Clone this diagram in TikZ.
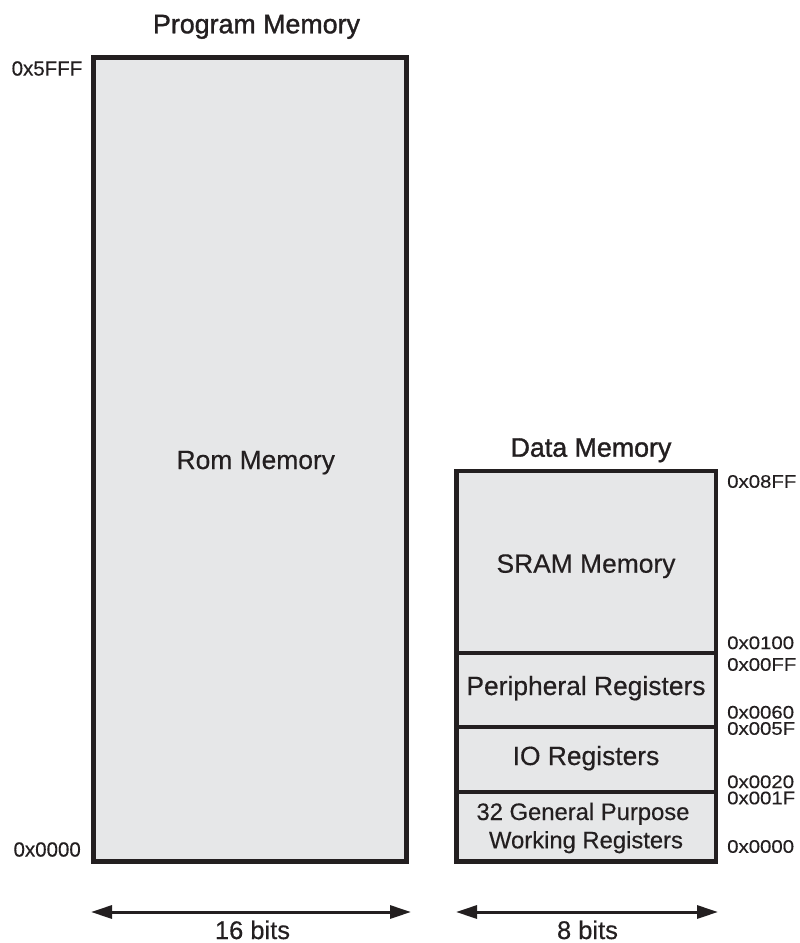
\documentclass[tikz,border=0pt]{standalone}
\usepackage{fontspec}
\setmainfont{Liberation Sans}
\newfontfamily\titlefont{Liberation Sans}[FakeBold=1.3]
\newfontfamily\bodyfont{Liberation Sans}[FakeBold=0.35]
\newfontfamily\raddrfont{Liberation Sans}[FakeStretch=1.12,FakeBold=0.25]
\usetikzlibrary{arrows.meta}
\definecolor{boxfill}{HTML}{E6E7E8}
\definecolor{ink}{HTML}{231F20}
\tikzset{
  pmbox/.style={draw=ink, line width=4.5pt, fill=boxfill, rectangle, inner sep=0pt, outer sep=0pt},
  secfill/.style={fill=boxfill, draw=none, rectangle, inner sep=0pt, outer sep=0pt},
  divider/.style={draw=ink, line width=3.5pt},
  outerline/.style={draw=ink, line width=4.5pt},
  lbl/.style={font=\bodyfont\fontsize{26.4}{30}\selectfont, text=ink, inner sep=0pt},
  gprlbl/.style={font=\bodyfont\fontsize{23.8}{28.3}\selectfont, text=ink, inner sep=0pt, align=center},
  title/.style={font=\titlefont\fontsize{26.8}{30}\selectfont, text=ink, inner sep=0pt},
  laddr/.style={font=\bodyfont\fontsize{20.5}{24}\selectfont, text=ink, inner sep=0pt},
  raddr/.style={font=\raddrfont\fontsize{18.2}{22}\selectfont, text=ink, inner sep=0pt, anchor=west},
  bits/.style={font=\bodyfont\fontsize{25.5}{30}\selectfont, text=ink, inner sep=0pt, anchor=base},
  widtharrow/.style={draw=ink, line width=3pt, {Triangle[length=21pt,width=13pt]}-{Triangle[length=21pt,width=13pt]}}
}
\begin{document}
\begin{tikzpicture}[x=1pt,y=-1pt]
\useasboundingbox (0,0) rectangle (800,943);
% Program memory
\node[title, anchor=base] (pmt) at (256.5,33.3) {Program Memory};
\node[pmbox, minimum width=313, minimum height=804] (pm) at (250,459.5) {};
\node[lbl, anchor=base] (romt) at (255.8,469) {Rom Memory};
\node[laddr, anchor=east] (pmhi) at (82.5,68.5) {0x5FFF};
\node[laddr, anchor=east] (pmlo) at (81,849.5) {0x0000};
% Data memory
\node[title, anchor=base] (dmt) at (591,456.7) {Data Memory};
\node[secfill, minimum width=259.5, minimum height=182] (sram) at (586.25,562) {};
\node[secfill, minimum width=259.5, minimum height=74] (per) at (586.25,690) {};
\node[secfill, minimum width=259.5, minimum height=65] (io) at (586.25,759.5) {};
\node[secfill, minimum width=259.5, minimum height=69.5] (gpr) at (586.25,826.75) {};
\draw[divider] (sram.south west) -- (sram.south east);
\draw[divider] (per.south west) -- (per.south east);
\draw[divider] (io.south west) -- (io.south east);
\draw[outerline] (sram.north west) rectangle (gpr.south east);
\node[lbl, anchor=base] (sramt) at (586,572.7) {SRAM Memory};
\node[lbl, anchor=base] (pert) at (586,695) {Peripheral Registers};
\node[lbl, anchor=base] (iot) at (586,765) {IO Registers};
\node[gprlbl, anchor=base] (gprt1) at (583,820) {32 General Purpose};
\node[gprlbl, anchor=base] (gprt2) at (586,848.3) {Working Registers};
% Data memory addresses
\node[raddr] (d1) at (727,481.5) {0x08FF};
\node[raddr] (d2) at (727,642.8) {0x0100};
\node[raddr] (d3) at (727,664.5) {0x00FF};
\node[raddr] (d4) at (727,712.3) {0x0060};
\node[raddr] (d5) at (727,728.5) {0x005F};
\node[raddr] (d6) at (727,781.8) {0x0020};
\node[raddr] (d7) at (727,798) {0x001F};
\node[raddr] (d8) at (727,846.5) {0x0000};
% Width arrows
\coordinate (pl) at (91,912);
\coordinate (pr) at (411,912);
\coordinate (dl) at (456,912);
\coordinate (dr) at (718,912);
\draw[widtharrow] (pl) -- (pr);
\draw[widtharrow] (dl) -- (dr);
\node[bits] (b16) at (252.5,939) {16 bits};
\node[bits] (b8) at (587.5,939) {8 bits};
\end{tikzpicture}
\end{document}
